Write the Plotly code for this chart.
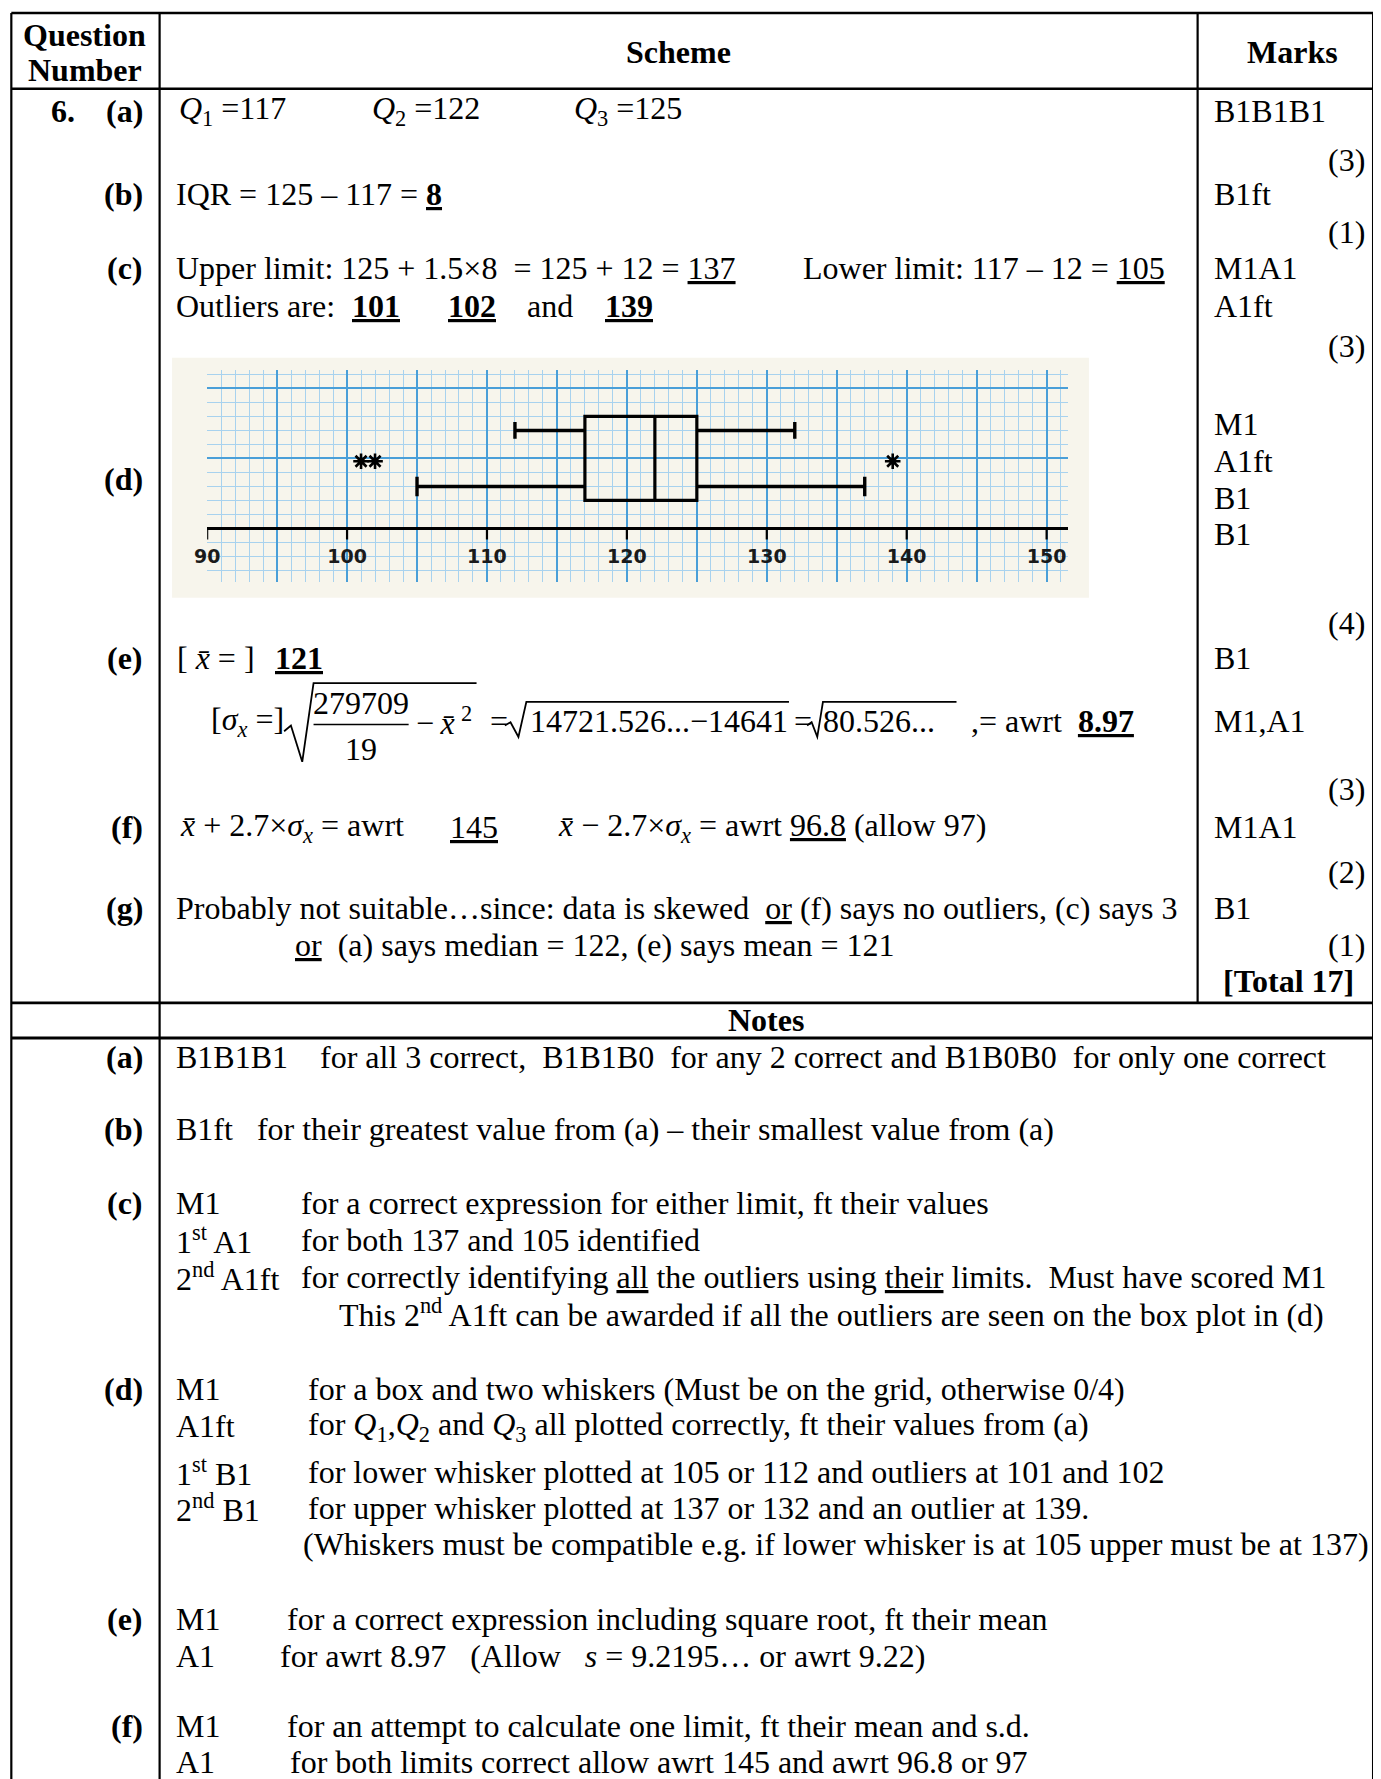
import re
import plotly.graph_objects as go

# ---------------- data ----------------
quartile_labels = ["Q1", "Q2", "Q3"]
quartiles = [117, 122, 125]
inner_whiskers = [112, 132]
outer_whiskers = [105, 137]
outliers = [101, 102, 139]
axis_ticks = [90, 100, 110, 120, 130, 140, 150]
axis_tick_labels = ["90", "100", "110", "120", "130", "140", "150"]

# ---------------- page geometry ----------------
# The page body has an 8px margin, so the figure is made 8px smaller and the
# page coordinate system is offset so the table lands where the reference has it.
BODY = 8
W, H = 1381 - BODY, 1779 - BODY
VW, VH = 1220.0, 1571.6          # layout units for the full 1381x1779 window
OFF = BODY * VW / 1381.0
FS = 32
SERIF = "Liberation Serif"

ann = []
shapes = []


def sp(s):
    return re.sub(r" {2,}", lambda m: "\u00a0" * len(m.group()), s)


def T(x, y, s, size=FS, anchor="left", bold=False):
    s = sp(s)
    if bold:
        s = "<b>" + s + "</b>"
    ann.append(dict(x=x, y=y, xref="x", yref="y", text=s, showarrow=False,
                    xanchor=anchor, yanchor="middle",
                    font=dict(size=size, family=SERIF, color="black")))


def L(x0, y0, x1, y1, w=2.0):
    shapes.append(dict(type="line", xref="x", yref="y", x0=x0, y0=y0, x1=x1, y1=y1,
                       line=dict(color="black", width=w)))


def P(path, w=1.8):
    shapes.append(dict(type="path", xref="x", yref="y", path=path,
                       line=dict(color="black", width=w)))


# ---------------- table lines ----------------
XL, XC1, XC2, XR = 10, 141, 1058, 1213
YT, YH, YN1, YN2 = 11.5, 78.5, 886, 917
L(XL, YT, XR, YT, 2.5)
L(XL, YH, XR, YH, 2.5)
L(XL, YN1, XR, YN1, 2.8)
L(XL, YN2, XR, YN2, 2.8)
L(XL, YT, XL, VH + 5, 2.2)
L(XC1, YT, XC1, VH + 5, 2.2)
L(XC2, YT, XC2, YN1, 2.2)
L(XR, YT, XR, VH + 5, 2.2)

# paper of the box plot picture
shapes.append(dict(type="rect", xref="x", yref="y", x0=152, x1=962, y0=316, y1=528,
                   fillcolor="#f7f5ec", line=dict(width=0), layer="below"))

# ---------------- header ----------------
T(75, 31, "Question", bold=True, anchor="center")
T(75, 62, "Number", bold=True, anchor="center")
T(599, 46, "Scheme", bold=True, anchor="center")
T(1142, 46, "Marks", bold=True, anchor="center")

LAB = 128
RM = 1208
MK = 1071

# (a)
T(68, 98, "6.", bold=True, anchor="right")
T(LAB, 98, "(a)", bold=True, anchor="right")
for xq, name, val in zip([156, 327, 505], quartile_labels, quartiles):
    T(xq, 98, "<i>Q</i><sub>%s</sub> =%d" % (name[1], val))
T(MK, 98, "B1B1B1")
T(RM, 141, "(3)", anchor="right")

# (b)
T(LAB, 171, "(b)", bold=True, anchor="right")
T(154, 171, "IQR = 125 – 117 = <b><u>8</u></b>")
T(MK, 171, "B1ft")
T(RM, 205, "(1)", anchor="right")

# (c)
T(LAB, 237, "(c)", bold=True, anchor="right")
T(154, 237, "Upper limit: 125 + 1.5×8  = 125 + 12 = <u>137</u>")
T(708, 237, "Lower limit: 117 – 12 = <u>105</u>")
T(154, 270, "Outliers are:")
T(309, 270, "<b><u>101</u></b>")
T(394, 270, "<b><u>102</u></b>")
T(464, 270, "and")
T(533, 270, "<b><u>139</u></b>")
T(MK, 237, "M1A1")
T(MK, 270, "A1ft")
T(RM, 306, "(3)", anchor="right")

# (d)
T(LAB, 423, "(d)", bold=True, anchor="right")
T(MK, 375, "M1")
T(MK, 407, "A1ft")
T(MK, 440, "B1")
T(MK, 472, "B1")
T(RM, 550, "(4)", anchor="right")

# (e)
T(LAB, 581, "(e)", bold=True, anchor="right")
T(155, 581, "[ <i>x̄</i> = ]")
T(241, 581, "<b><u>121</u></b>")
T(MK, 581, "B1")
YE = 637
T(185, YE, "[<i>σ</i><sub><i>x</i></sub> =]")
T(319, 621, "279709", anchor="center")
T(319, 662, "19", anchor="center")
L(277, 640, 361, 640, 1.6)
T(366, YE, "−\u2009<i>x̄</i>\u2009<sup>2</sup>")
T(431, YE, "=")
T(466, YE, "14721.526...−14641")
T(700, YE, "=")
T(725, YE, "80.526...")
T(856, YE, ",= awrt  <b><u>8.97</u></b>")
P("M 251 646 L 257 641 L 267 673 L 277 603.5 L 421 603.5")
P("M 446 641 L 451 638 L 458 651 L 465 620 L 697 620")
P("M 713 641 L 717 638 L 722 651 L 727 620 L 845 620")
T(MK, YE, "M1,A1")
T(RM, 697, "(3)", anchor="right")

# (f)
T(LAB, 731, "(f)", bold=True, anchor="right")
T(157, 731, "<i>x̄</i> + 2.7×<i>σ</i><sub><i>x</i></sub> = awrt")
T(396, 731, "<u>145</u>")
T(491, 731, "<i>x̄</i> − 2.7×<i>σ</i><sub><i>x</i></sub> = awrt <u>96.8</u> (allow 97)")
T(MK, 731, "M1A1")
T(RM, 770, "(2)", anchor="right")

# (g)
T(LAB, 802, "(g)", bold=True, anchor="right")
T(154, 802, "Probably not suitable…since: data is skewed  <u>or</u> (f) says no outliers, (c) says 3")
T(259, 835, "<u>or</u>  (a) says median = 122, (e) says mean = 121")
T(MK, 802, "B1")
T(RM, 835, "(1)", anchor="right")
T(1138, 867, "[Total 17]", bold=True, anchor="center")

# ---------------- notes ----------------
T(677, 901, "Notes", bold=True, anchor="center")

T(LAB, 934, "(a)", bold=True, anchor="right")
T(154, 934, "B1B1B1    for all 3 correct,  B1B1B0  for any 2 correct and B1B0B0  for only one correct")

T(LAB, 997, "(b)", bold=True, anchor="right")
T(154, 997, "B1ft   for their greatest value from (a) – their smallest value from (a)")

T(LAB, 1063, "(c)", bold=True, anchor="right")
T(154, 1063, "M1")
T(264, 1063, "for a correct expression for either limit, ft their values")
T(154, 1095, "1<sup>st</sup> A1")
T(264, 1095, "for both 137 and 105 identified")
T(154, 1128, "2<sup>nd</sup> A1ft")
T(264, 1128, "for correctly identifying <u>all</u> the outliers using <u>their</u> limits.  Must have scored M1")
T(298, 1160, "This 2<sup>nd</sup> A1ft can be awarded if all the outliers are seen on the box plot in (d)")

T(LAB, 1227, "(d)", bold=True, anchor="right")
T(154, 1227, "M1")
T(270, 1227, "for a box and two whiskers (Must be on the grid, otherwise 0/4)")
T(154, 1260, "A1ft")
T(270, 1260, "for <i>Q</i><sub>1</sub>,<i>Q</i><sub>2</sub> and <i>Q</i><sub>3</sub> all plotted correctly, ft their values from (a)")
T(154, 1300, "1<sup>st</sup> B1")
T(270, 1300, "for lower whisker plotted at 105 or 112 and outliers at 101 and 102")
T(154, 1332, "2<sup>nd</sup> B1")
T(270, 1332, "for upper whisker plotted at 137 or 132 and an outlier at 139.")
T(266, 1364, "(Whiskers must be compatible e.g. if lower whisker is at 105 upper must be at 137)")

T(LAB, 1430, "(e)", bold=True, anchor="right")
T(154, 1430, "M1")
T(252, 1430, "for a correct expression including square root, ft their mean")
T(154, 1463, "A1")
T(246, 1463, "for awrt 8.97   (Allow   <i>s</i> = 9.2195… or awrt 9.22)")

T(LAB, 1525, "(f)", bold=True, anchor="right")
T(154, 1525, "M1")
T(252, 1525, "for an attempt to calculate one limit, ft their mean and s.d.")
T(154, 1557, "A1")
T(254, 1557, "for both limits correct allow awrt 145 and awrt 96.8 or 97")

# ---------------- box plot ----------------
fig = go.Figure()

fig.add_trace(go.Scatter(x=[OFF, VW], y=[OFF, VH], mode="markers", marker=dict(opacity=0),
                         hoverinfo="skip", showlegend=False, xaxis="x", yaxis="y"))

U = 12.36                     # layout units per data unit on the graph paper
v90, vaxis, vtop, vbot = 183.0, 466.8, 327.0, 514.0
x_hi = 151.5


def fx(v):
    return (v - OFF) / (VW - OFF)


def fy(v):
    return 1 - (v - OFF) / (VH - OFF)


gx0, gx1 = fx(v90), fx(v90 + (x_hi - 90) * U)
gy0, gy1 = fy(vbot), fy(vtop)
y_lo = -(vbot - vaxis) / U
y_hi = (vaxis - vtop) / U

BOX_Y = 5.0
fig.add_trace(go.Box(
    q1=[quartiles[0]], median=[quartiles[1]], q3=[quartiles[2]],
    lowerfence=[quartiles[0]], upperfence=[quartiles[2]],
    y=[BOX_Y], orientation="h", width=6, whiskerwidth=0,
    line=dict(color="black", width=3.2), fillcolor="rgba(0,0,0,0)",
    boxpoints=False, hoverinfo="skip", showlegend=False, xaxis="x2", yaxis="y2"))

wx, wy = [], []
for (lo, hi), yy, cap in [(inner_whiskers, 7.0, 0.6), (outer_whiskers, 3.0, 0.7)]:
    wx += [lo, quartiles[0], None, quartiles[2], hi, None, lo, lo, None, hi, hi, None]
    wy += [yy, yy, None, yy, yy, None, yy - cap, yy + cap, None, yy - cap, yy + cap, None]
fig.add_trace(go.Scatter(x=wx, y=wy, mode="lines", line=dict(color="black", width=3.4),
                         hoverinfo="skip", showlegend=False, xaxis="x2", yaxis="y2"))

fig.add_trace(go.Scatter(x=outliers, y=[4.8] * len(outliers), mode="markers",
                         marker=dict(symbol="asterisk-open", size=13, color="black",
                                     line=dict(color="black", width=2.6)),
                         hoverinfo="skip", showlegend=False, xaxis="x2", yaxis="y2"))

tx, ty = [], []
for t in axis_ticks:
    tx += [t, t, None]
    ty += [0, -0.8, None]
fig.add_trace(go.Scatter(x=tx, y=ty, mode="lines", line=dict(color="black", width=2.2),
                         cliponaxis=False,
                         hoverinfo="skip", showlegend=False, xaxis="x2", yaxis="y2"))
fig.add_trace(go.Scatter(x=axis_ticks, y=[-2.15] * len(axis_ticks), mode="text",
                         text=axis_tick_labels, cliponaxis=False,
                         textfont=dict(family="DejaVu Sans", size=19, color="#1a1a1a", weight="bold"),
                         hoverinfo="skip", showlegend=False, xaxis="x2", yaxis="y2"))

grid_major = "#4a9fd8"
grid_minor = "#a8d2ee"

fig.update_layout(
    width=W, height=H,
    margin=dict(l=0, r=0, t=0, b=0),
    paper_bgcolor="white", plot_bgcolor="rgba(0,0,0,0)",
    hovermode=False, showlegend=False,
    xaxis=dict(domain=[0, 1], range=[OFF, VW], visible=False, fixedrange=True),
    yaxis=dict(domain=[0, 1], range=[VH, OFF], visible=False, fixedrange=True),
    xaxis2=dict(domain=[gx0, gx1], range=[90, x_hi], anchor="y2",
                showgrid=True, dtick=5, tick0=0, gridcolor=grid_major, gridwidth=1.6,
                minor=dict(dtick=1, tick0=0, showgrid=True, gridcolor=grid_minor, gridwidth=1),
                showticklabels=False, ticks="", zeroline=False, showline=False, fixedrange=True),
    yaxis2=dict(domain=[gy0, gy1], range=[y_lo, y_hi], anchor="x2",
                showgrid=True, dtick=5, tick0=0, gridcolor=grid_major, gridwidth=1.6,
                minor=dict(dtick=1, tick0=0, showgrid=True, gridcolor=grid_minor, gridwidth=1),
                showticklabels=False, ticks="", zeroline=True, zerolinecolor="black",
                zerolinewidth=3.4, showline=False, fixedrange=True),
    annotations=ann,
    shapes=shapes,
)

fig.write_html("out.html")
